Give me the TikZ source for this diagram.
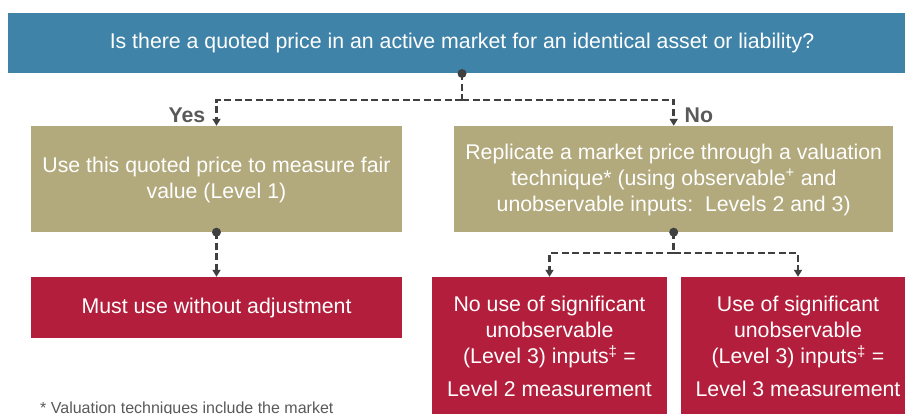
\documentclass[tikz,border=0pt]{standalone}
\usepackage{fontspec}
\setmainfont{Liberation Sans}
\usetikzlibrary{arrows.meta,calc}
\definecolor{qblue}{HTML}{4083A9}
\definecolor{tanfill}{HTML}{B2A97C}
\definecolor{winefill}{HTML}{B21E3B}
\definecolor{conncol}{HTML}{404040}
\definecolor{lblcol}{HTML}{595959}
\tikzset{
  box/.style={rectangle, inner sep=0pt, text=white, align=center,
    font=\fontsize{21.3}{26}\selectfont},
  qbox/.style={box, fill=qblue},
  tanbox/.style={box, fill=tanfill},
  winebox/.style={box, fill=winefill},
  dconn/.style={draw=conncol, line width=2.5pt, dash pattern=on 7pt off 3.5pt},
  tipped/.style={dconn, -{Triangle[length=7pt,width=8pt]}},
  dot/.style={fill=conncol},
  yn/.style={inner sep=0pt, text=lblcol, font=\fontsize{21.3}{26}\selectfont\bfseries},
  foot/.style={inner sep=0pt, text=lblcol, font=\fontsize{16}{19}\selectfont}
}
\begin{document}
\begin{tikzpicture}[x=1pt,y=-1pt]
\useasboundingbox (0,0) rectangle (905,414);
\clip (0,0) rectangle (905,414);

\node[qbox, minimum width=908, minimum height=60.6] (q) at (462,43)
  {Is there a quoted price in an active market for an identical asset or liability?};

\node[tanbox, minimum width=371, minimum height=106] (tanL) at (216.5,179)
  {\rule{0pt}{18pt}Use this quoted price to measure fair\\value (Level 1)};
\node[tanbox, minimum width=438.5, minimum height=106] (tanR) at (673.7,179)
  {\rule{0pt}{17pt}Replicate a market price through a valuation\\technique* (using observable\textsuperscript{+} and\\unobservable inputs:\ \ Levels 2 and 3)};

\node[winebox, minimum width=371, minimum height=61] (wineL) at (216.5,307.5)
  {Must use without adjustment};
\node[winebox, minimum width=235, minimum height=139] (wineM) at (549.5,346.5)
  {No use of significant\\unobservable\\(Level 3) inputs\textsuperscript{‡} =\\[7pt]Level 2 measurement};
\node[winebox, minimum width=234, minimum height=139] (wineR) at (798,346.5)
  {Use of significant\\unobservable\\(Level 3) inputs\textsuperscript{‡} =\\[7pt]Level 3 measurement};

% top split
\coordinate (j1) at ($(q.south)+(0,26.5)$);
\draw[dconn] (q.south) -- (j1);
\draw[tipped] (j1) -| (tanL.north);
\draw[tipped] (j1) -| (tanR.north);
\fill[dot] (q.south) circle (4.5);

\node[yn, anchor=base east] (yes) at ($(tanL.north)+(-11,-3)$) {Yes};
\node[yn, anchor=base west] (no) at ($(tanR.north)+(10.8,-3)$) {No};

% left down
\draw[tipped] (tanL.south) -- (wineL.north);
\fill[dot] (tanL.south) circle (4.5);

% right split
\coordinate (j2) at ($(tanR.south)+(0,21)$);
\draw[dconn] (tanR.south) -- (j2);
\draw[tipped] (j2) -| (wineM.north);
\draw[tipped] (j2) -| (wineR.north);
\fill[dot] (tanR.south) circle (4.5);

\node[foot, anchor=base west] (fn) at (40,413.2) {* Valuation techniques include the market};
\end{tikzpicture}
\end{document}
